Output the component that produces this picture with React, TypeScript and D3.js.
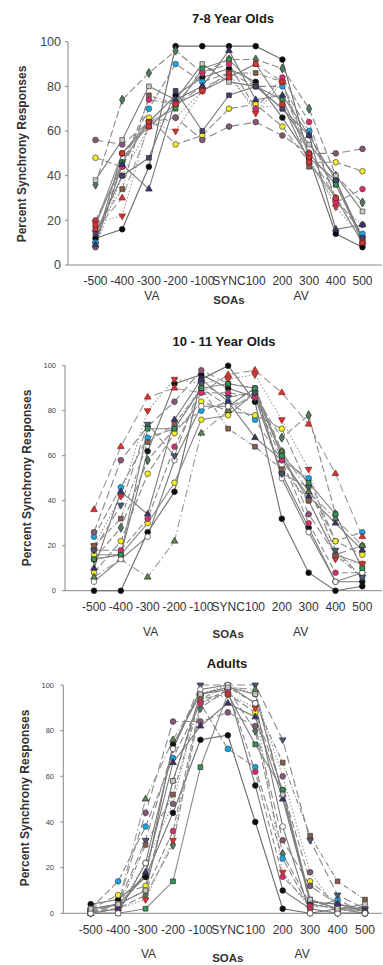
import React from "react";
import * as d3 from "d3";

const soaLabels = ["-500", "-400", "-300", "-200", "-100", "SYNC", "100", "200", "300", "400", "500"];
const yTicks = [0, 20, 40, 60, 80, 100];

// 7-8 year olds: one row per participant, values at each SOA
const kids78: number[][] = [
  [12, 16, 44, 98, 98, 98, 98, 92, 48, 14, 8],
  [10, 50, 64, 76, 84, 88, 82, 66, 48, 38, 10],
  [36, 74, 86, 96, 86, 92, 92, 88, 70, 40, 28],
  [10, 46, 70, 90, 82, 86, 80, 80, 60, 30, 14],
  [48, 44, 66, 54, 58, 70, 72, 62, 46, 46, 42],
  [56, 54, 64, 66, 56, 62, 64, 58, 50, 50, 52],
  [8, 40, 62, 66, 78, 84, 70, 72, 46, 28, 18],
  [38, 56, 80, 74, 90, 82, 80, 70, 54, 40, 24],
  [16, 34, 76, 72, 78, 86, 86, 82, 44, 36, 12],
  [18, 46, 64, 70, 88, 92, 80, 74, 50, 36, 11],
  [20, 44, 74, 72, 86, 90, 70, 84, 64, 28, 34],
  [16, 30, 62, 72, 80, 84, 90, 82, 50, 30, 10],
  [19, 22, 64, 60, 78, 86, 68, 82, 48, 26, 12],
  [14, 40, 48, 78, 60, 76, 80, 70, 58, 38, 12],
  [9, 45, 34, 74, 80, 96, 74, 76, 58, 16, 18],
  [18, 50, 62, 72, 78, 84, 90, 72, 46, 30, 10],
];
const kids78Styles = ["black", "black2", "greenDiamond", "cyan", "yellow", "mauve", "mauve2", "greySquare", "brown", "greenSquare", "magenta", "redUp", "redDown", "navySquare", "navyUp", "redSquare"];

// 10-11 year olds
const kids1011: number[][] = [
  [0, 0, 26, 44, 94, 100, 84, 32, 8, 0, 2],
  [14, 16, 62, 92, 96, 90, 86, 52, 28, 4, 4],
  [14, 28, 58, 72, 90, 82, 86, 68, 78, 34, 10],
  [24, 46, 68, 72, 80, 84, 76, 58, 50, 22, 26],
  [8, 22, 52, 70, 84, 80, 78, 72, 46, 22, 16],
  [16, 16, 30, 48, 76, 78, 88, 60, 40, 16, 12],
  [26, 58, 73, 84, 98, 92, 90, 62, 34, 16, 20],
  [36, 64, 86, 90, 88, 96, 98, 88, 74, 52, 24],
  [20, 42, 80, 94, 92, 94, 96, 76, 54, 14, 12],
  [10, 44, 34, 76, 94, 84, 68, 58, 42, 30, 18],
  [18, 18, 32, 64, 88, 88, 86, 58, 30, 8, 8],
  [20, 32, 66, 74, 90, 72, 64, 54, 40, 16, 6],
  [6, 14, 6, 22, 70, 80, 88, 62, 44, 32, 20],
  [4, 14, 24, 58, 82, 82, 90, 50, 26, 4, 8],
  [18, 38, 74, 60, 92, 86, 88, 52, 46, 18, 6],
  [14, 16, 72, 72, 90, 92, 90, 60, 48, 34, 10],
];
const kids1011Styles = ["black", "black2", "greenDiamond", "cyan", "yellow", "yellow2", "mauve", "redUp", "redDown", "navyUp", "magenta", "brown", "greenUp", "hollowCircle", "navyDown", "greenSquare"];

// Adults
const adults: number[][] = [
  [4, 6, 16, 44, 76, 78, 40, 2, 0, 2, 2],
  [2, 4, 16, 74, 96, 98, 56, 10, 2, 0, 0],
  [1, 2, 8, 30, 90, 98, 80, 26, 4, 2, 1],
  [2, 14, 38, 68, 92, 72, 64, 24, 2, 6, 0],
  [2, 8, 12, 58, 94, 96, 88, 54, 14, 4, 2],
  [1, 4, 44, 84, 84, 88, 82, 32, 12, 4, 2],
  [0, 2, 22, 48, 96, 100, 96, 60, 18, 2, 0],
  [0, 4, 32, 72, 100, 100, 100, 76, 32, 8, 2],
  [0, 2, 30, 52, 94, 99, 92, 66, 34, 14, 6],
  [0, 0, 2, 14, 64, 96, 74, 54, 6, 2, 0],
  [2, 4, 50, 76, 96, 99, 98, 52, 4, 2, 1],
  [0, 2, 6, 32, 92, 96, 90, 18, 2, 0, 0],
  [1, 4, 10, 36, 92, 98, 62, 16, 4, 2, 0],
  [0, 2, 18, 66, 82, 92, 86, 50, 5, 4, 1],
  [0, 0, 22, 72, 98, 100, 92, 38, 0, 0, 0],
  [2, 4, 10, 58, 96, 99, 96, 52, 6, 2, 4],
];
const adultsStyles = ["black", "black2", "greenDiamond", "cyan", "yellow", "mauve", "mauve2", "navyDown", "brown", "greenSquare", "greenUp", "redDown", "magenta", "navyUp", "hollowCircle", "greySquare"];

type Sty = { shape: string; fill: string; stroke: string; dash: string; line: string };
const STY: Record<string, Sty> = {
  black: { shape: "circle", fill: "#0a0a0a", stroke: "#222", dash: "", line: "#6a6a6a" },
  black2: { shape: "circle", fill: "#111", stroke: "#222", dash: "", line: "#777" },
  greenDiamond: { shape: "diamond", fill: "#4f7d5e", stroke: "#333", dash: "7,3", line: "#888" },
  cyan: { shape: "circle", fill: "#1ea3dc", stroke: "#2a5a7a", dash: "7,3", line: "#888" },
  yellow: { shape: "circle", fill: "#f6ef1c", stroke: "#555", dash: "7,3", line: "#8a8a8a" },
  yellow2: { shape: "circle", fill: "#f6ef1c", stroke: "#555", dash: "", line: "#888" },
  mauve: { shape: "circle", fill: "#8d5676", stroke: "#444", dash: "8,4", line: "#888" },
  mauve2: { shape: "circle", fill: "#8a5a7c", stroke: "#444", dash: "1.5,2", line: "#999" },
  greySquare: { shape: "square", fill: "#c8c8c8", stroke: "#555", dash: "", line: "#7a7a7a" },
  brown: { shape: "square", fill: "#8c5a48", stroke: "#444", dash: "5,2,1,2", line: "#888" },
  greenSquare: { shape: "square", fill: "#2e9a52", stroke: "#333", dash: "", line: "#888" },
  magenta: { shape: "circle", fill: "#e0267c", stroke: "#553", dash: "6,3", line: "#888" },
  redUp: { shape: "triangle", fill: "#d8332f", stroke: "#8a2a2a", dash: "8,4", line: "#999" },
  redDown: { shape: "triangleDown", fill: "#d8332f", stroke: "#8a2a2a", dash: "1.5,2", line: "#999" },
  redSquare: { shape: "square", fill: "#d43a34", stroke: "#7a2a2a", dash: "", line: "#888" },
  navySquare: { shape: "square", fill: "#4a3f72", stroke: "#333", dash: "", line: "#7a7a7a" },
  navyUp: { shape: "triangle", fill: "#3b2f78", stroke: "#333", dash: "", line: "#7a7a7a" },
  navyDown: { shape: "triangleDown", fill: "#4a5a80", stroke: "#333", dash: "8,4", line: "#888" },
  greenUp: { shape: "triangle", fill: "#5e8a4c", stroke: "#333", dash: "8,3,1.5,3", line: "#999" },
  hollowCircle: { shape: "circle", fill: "#ffffff", stroke: "#555", dash: "", line: "#7a7a7a" },
};

const FONT = "'Liberation Sans', Arial, Helvetica, sans-serif";

type Layout = {
  title: string;
  titleX: number; titleY: number;
  top: number; bottom: number;
  axisX: number; axisRight: number;
  x0: number; x1: number;
  tickFont: number; tickLabelX: number;
  xLabelY: number; vaY: number; soaY: number;
  yLabelX: number; yLabelY: number; yLabelFont: number;
};

function symbolPath(shape: string): string {
  if (shape === "square") return d3.symbol(d3.symbolSquare, 22)() as string;
  if (shape === "diamond") return d3.symbol(d3.symbolDiamond, 24)() as string;
  if (shape === "triangle" || shape === "triangleDown") return d3.symbol(d3.symbolTriangle, 19)() as string;
  return d3.symbol(d3.symbolCircle, 25)() as string;
}

function Panel({ data, styles, L }: { data: number[][]; styles: string[]; L: Layout }) {
  const x = d3.scalePoint<string>().domain(soaLabels).range([L.x0, L.x1]);
  const y = d3.scaleLinear().domain([0, 100]).range([L.bottom, L.top]);
  const line = d3.line<number>().x((_, i) => x(soaLabels[i]) as number).y((v) => y(v));
  return (
    <g>
      <text x={L.titleX} y={L.titleY} textAnchor="middle" fontFamily={FONT} fontWeight="bold" fontSize={13} fill="#1a1a1a">{L.title}</text>
      <line x1={L.axisX} x2={L.axisX} y1={L.top} y2={L.bottom} stroke="#888" strokeWidth={1} />
      <line x1={L.axisX} x2={L.axisRight} y1={L.bottom} y2={L.bottom} stroke="#888" strokeWidth={1} />
      {yTicks.map((t) => (
        <g key={t}>
          <line x1={L.axisX - 3} x2={L.axisX} y1={y(t)} y2={y(t)} stroke="#888" />
          <text x={L.tickLabelX} y={y(t)} dy="0.35em" textAnchor="end" fontFamily={FONT} fontSize={L.tickFont} fill="#444">{t}</text>
        </g>
      ))}
      {soaLabels.map((s) => (
        <text key={s} x={x(s)} y={L.xLabelY} textAnchor="middle" fontFamily={FONT} fontSize={12} fill="#333">{s}</text>
      ))}
      <text x={(x("-300") as number) + 3} y={L.vaY} textAnchor="middle" fontFamily={FONT} fontSize={12} fill="#333">VA</text>
      <text x={(x("300") as number) - 8} y={L.vaY} textAnchor="middle" fontFamily={FONT} fontSize={12} fill="#333">AV</text>
      <text x={x("SYNC")} y={L.soaY} textAnchor="middle" fontFamily={FONT} fontWeight="bold" fontSize={11.5} fill="#333">SOAs</text>
      <text transform={`translate(${L.yLabelX},${L.yLabelY}) rotate(-90)`} textAnchor="middle" dy="0.35em" fontFamily={FONT} fontWeight="bold" fontSize={L.yLabelFont} fill="#333">Percent Synchrony Responses</text>
      {data.map((row, k) => {
        const st = STY[styles[k]];
        return <path key={"l" + k} d={line(row) as string} fill="none" stroke={st.line} strokeWidth={1.1} strokeDasharray={st.dash} />;
      })}
      {data.map((row, k) => {
        const st = STY[styles[k]];
        const p = symbolPath(st.shape);
        return (
          <g key={"m" + k}>
            {row.map((v, i) => (
              <path key={i} d={p} transform={`translate(${x(soaLabels[i])},${y(v)})${st.shape === "triangleDown" ? " rotate(180)" : ""}`} fill={st.fill} stroke={st.stroke} strokeWidth={0.8} />
            ))}
          </g>
        );
      })}
    </g>
  );
}

const L1: Layout = {
  title: "7-8 Year Olds", titleX: 233, titleY: 23,
  top: 41.7, bottom: 265, axisX: 68, axisRight: 382, x0: 95.5, x1: 362.5,
  tickFont: 12.5, tickLabelX: 61, xLabelY: 284.5, vaY: 299.5, soaY: 304,
  yLabelX: 22, yLabelY: 154, yLabelFont: 12,
};
const L2: Layout = {
  title: "10 - 11 Year Olds", titleX: 224, titleY: 345.5,
  top: 365.7, bottom: 590.7, axisX: 65, axisRight: 382, x0: 94, x1: 362.3,
  tickFont: 7.5, tickLabelX: 56, xLabelY: 611, vaY: 636, soaY: 637.5,
  yLabelX: 27, yLabelY: 478, yLabelFont: 12,
};
const L3: Layout = {
  title: "Adults", titleX: 227, titleY: 667.5,
  top: 685, bottom: 913.3, axisX: 63.3, axisRight: 382, x0: 90.7, x1: 365,
  tickFont: 7.5, tickLabelX: 54, xLabelY: 933.5, vaY: 957.5, soaY: 962,
  yLabelX: 25, yLabelY: 798, yLabelFont: 12,
};

export default function App() {
  return (
    <svg width={383} height={965} style={{ position: "absolute", left: 0, top: 0, background: "#fff" }}>
      <rect width={383} height={965} fill="#fff" />
      <Panel data={kids78} styles={kids78Styles} L={L1} />
      <Panel data={kids1011} styles={kids1011Styles} L={L2} />
      <Panel data={adults} styles={adultsStyles} L={L3} />
    </svg>
  );
}
